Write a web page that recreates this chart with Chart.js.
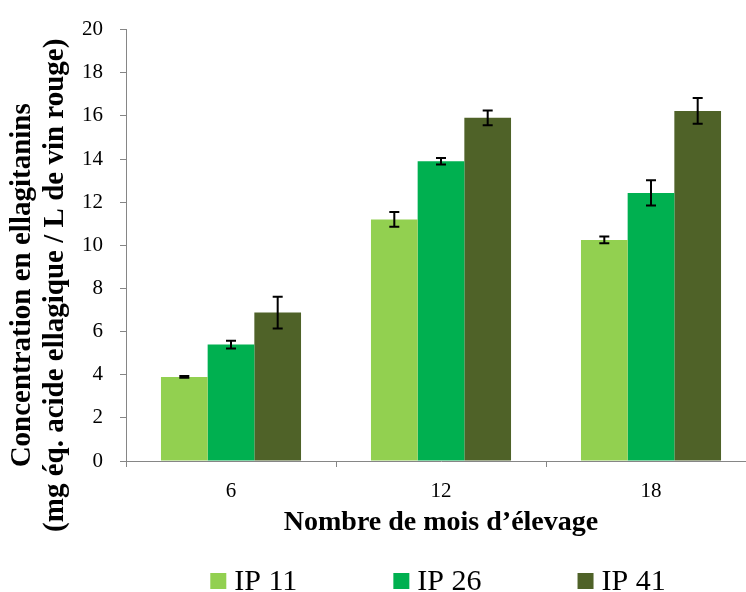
<!DOCTYPE html>
<html>
<head>
<meta charset="utf-8">
<script src="https://cdn.jsdelivr.net/npm/chart.js@4/dist/chart.umd.min.js"></script>
<style>
html,body{margin:0;padding:0;overflow:hidden;background:#fff;}
#wrap{position:relative;width:766px;height:592px;}
</style>
</head>
<body>
<div id="wrap"><canvas id="c"></canvas></div>
<script>
const categories = ['6', '12', '18'];
const seriesNames = ['IP 11', 'IP 26', 'IP 41'];
const ip11 = [3.9, 11.2, 10.25];
const ip26 = [5.4, 13.9, 12.43];
const ip41 = [6.88, 15.91, 16.23];
const err11 = [0.04, 0.34, 0.16];
const err26 = [0.18, 0.15, 0.58];
const err41 = [0.74, 0.34, 0.60];
const yTickValues = [0, 2, 4, 6, 8, 10, 12, 14, 16, 18, 20];
const yTitleLines = ['Concentration en ellagitanins', '(mg \u00e9q. acide ellagique / L de vin rouge)'];
const xTitle = 'Nombre de mois d\u2019\u00e9levage';
const colors = ['#92D050', '#00B050', '#4F6228'];

const SERIF = "'Liberation Serif', 'Times New Roman', serif";

const errorBars = {
  id: 'errorBars',
  afterDatasetsDraw(chart) {
    const ctx = chart.ctx;
    const y = chart.scales.y;
    ctx.save();
    ctx.strokeStyle = '#000';
    ctx.lineWidth = 2;
    chart.data.datasets.forEach((ds, di) => {
      const meta = chart.getDatasetMeta(di);
      meta.data.forEach((bar, i) => {
        const v = ds.data[i], e = ds.errors[i];
        const x = bar.x;
        const yTop = y.getPixelForValue(v + e);
        const yBot = y.getPixelForValue(v - e);
        ctx.beginPath();
        ctx.moveTo(x, yTop); ctx.lineTo(x, yBot);
        ctx.moveTo(x - 5, yTop); ctx.lineTo(x + 5, yTop);
        ctx.moveTo(x - 5, yBot); ctx.lineTo(x + 5, yBot);
        ctx.stroke();
      });
    });
    ctx.restore();
  }
};

const yTitlePlugin = {
  id: 'yTitlePlugin',
  afterDraw(chart) {
    const ctx = chart.ctx;
    const ca = chart.chartArea;
    ctx.save();
    ctx.font = 'bold 29px ' + SERIF;
    ctx.fillStyle = '#000';
    ctx.textAlign = 'center';
    ctx.textBaseline = 'alphabetic';
    const cy = (ca.top + ca.bottom) / 2 + 40;
    const baselines = [30, 63];
    yTitleLines.forEach((t, i) => {
      ctx.save();
      ctx.translate(baselines[i], cy);
      ctx.rotate(-Math.PI / 2);
      ctx.fillText(t, 0, 0);
      ctx.restore();
    });
    ctx.restore();
  }
};

const customLegend = {
  id: 'customLegend',
  afterDraw(chart) {
    const ctx = chart.ctx;
    const ca = chart.chartArea;
    ctx.save();
    ctx.font = '30px ' + SERIF;
    ctx.textBaseline = 'middle';
    const box = 16, gap = 8, spacing = 96;
    const items = chart.data.datasets.map(ds => ({
      label: ds.label, color: ds.backgroundColor, w: box + gap + ctx.measureText(ds.label).width
    }));
    const total = items.reduce((s, it) => s + it.w, 0) + spacing * (items.length - 1);
    let x = (ca.left + ca.right) / 2 - total / 2 - 3;
    const cy = 581;
    items.forEach(it => {
      ctx.fillStyle = it.color;
      ctx.fillRect(x, cy - box / 2, box, box);
      ctx.fillStyle = '#000';
      ctx.fillText(it.label, x + box + gap, cy + 1);
      x += it.w + spacing;
    });
    ctx.restore();
  }
};

new Chart(document.getElementById('c'), {
  type: 'bar',
  data: {
    labels: categories,
    datasets: [
      { label: seriesNames[0], data: ip11, errors: err11, backgroundColor: colors[0] },
      { label: seriesNames[1], data: ip26, errors: err26, backgroundColor: colors[1] },
      { label: seriesNames[2], data: ip41, errors: err41, backgroundColor: colors[2] }
    ]
  },
  options: {
    responsive: true,
    maintainAspectRatio: false,
    animation: false,
    devicePixelRatio: 1,
    layout: { padding: { top: 14, right: 10, bottom: 52, left: 0 } },
    datasets: { bar: { categoryPercentage: 0.667, barPercentage: 1.0 } },
    plugins: { legend: { display: false }, tooltip: { enabled: false } },
    scales: {
      x: {
        grid: { display: true, drawOnChartArea: false, tickLength: 6, color: '#868686', offset: true },
        border: { color: '#868686', width: 1 },
        ticks: { color: '#000', font: { family: SERIF, size: 21 }, padding: 12 },
        title: { display: true, text: xTitle, color: '#000',
                 font: { family: SERIF, size: 28, weight: 'bold' }, padding: { top: 2, bottom: 0 } },
        afterFit(s) { s.height = 79; }
      },
      y: {
        min: 0, max: 20,
        afterBuildTicks(s) { s.ticks = yTickValues.map(v => ({ value: v })); },
        grid: { display: true, drawOnChartArea: false, tickLength: 6, color: '#868686' },
        border: { color: '#868686', width: 1 },
        ticks: { color: '#000', font: { family: SERIF, size: 21 }, padding: 17 },
        title: { display: false },
        afterFit(s) { s.width = 126; }
      }
    }
  },
  plugins: [errorBars, yTitlePlugin, customLegend]
});
</script>
</body>
</html>
